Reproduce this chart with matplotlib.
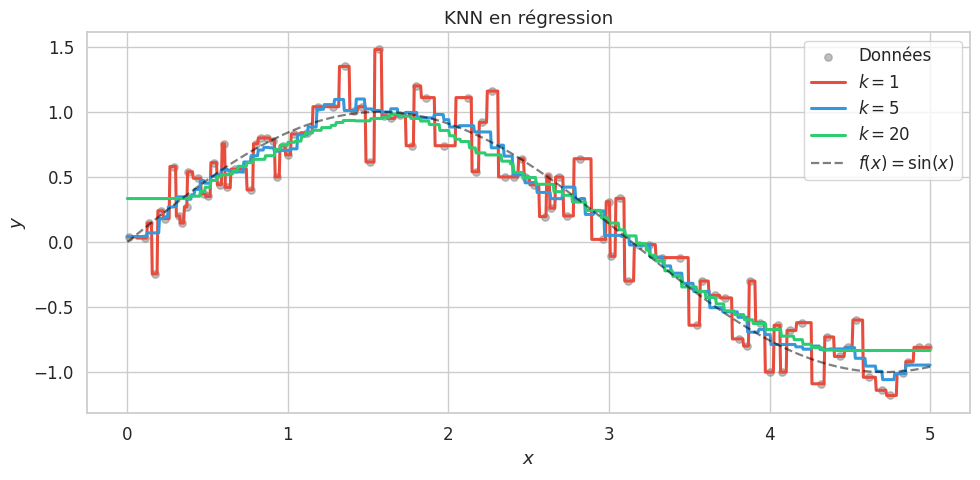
import numpy as np
import matplotlib
matplotlib.use("Agg")
import matplotlib.pyplot as plt
import seaborn as sns

# donnees
x_data = [0.01, 0.11, 0.135, 0.17, 0.21, 0.235, 0.29, 0.32, 0.34, 0.37,
          0.38, 0.44, 0.48, 0.50, 0.54, 0.58, 0.60, 0.62, 0.67, 0.72,
          0.77, 0.80, 0.83, 0.87, 0.91, 0.93, 0.97, 1.00, 1.04, 1.12,
          1.19, 1.28, 1.355, 1.41, 1.46, 1.51, 1.567, 1.60, 1.64, 1.70,
          1.77, 1.80, 1.86, 1.97, 2.12, 2.17, 2.21, 2.27, 2.35, 2.41,
          2.46, 2.48, 2.53, 2.60, 2.62, 2.64, 2.69, 2.74, 2.82, 2.96,
          3.00, 3.01, 3.07, 3.12, 3.19, 3.25, 3.33, 3.44, 3.55, 3.58,
          3.66, 3.72, 3.81, 3.86, 3.88, 3.94, 4.00, 4.05, 4.08, 4.13,
          4.20, 4.32, 4.36, 4.44, 4.49, 4.54, 4.62, 4.70, 4.75, 4.83,
          4.86, 4.93, 4.99]
y_data = [0.04, 0.03, 0.145, -0.245, 0.24, 0.18, 0.58, 0.20, 0.145, 0.27,
          0.54, 0.49, 0.37, 0.35, 0.61, 0.44, 0.755, 0.42, 0.56, 0.56,
          0.40, 0.755, 0.80, 0.80, 0.78, 0.50, 0.74, 0.67, 0.83, 0.84,
          1.04, 1.04, 1.35, 1.01, 1.04, 0.615, 1.48, 0.97, 0.95, 0.98,
          0.74, 1.20, 1.11, 0.74, 1.11, 0.54, 0.92, 1.16, 0.50, 0.50,
          0.64, 0.50, 0.44, 0.195, 0.51, 0.26, 0.50, 0.20, 0.64, 0.02,
          0.31, -0.11, 0.335, -0.30, -0.02, -0.02, -0.12, -0.12, -0.64, -0.30,
          -0.41, -0.43, -0.745, -0.80, -0.30, -0.62, -1.00, -0.64, -1.00, -0.68,
          -0.62, -1.09, -0.73, -0.88, -0.81, -0.60, -1.04, -1.14, -1.18, -1.01,
          -0.92, -0.81, -0.81]
k_values = [1, 5, 20]
colors = ["#e74c3c", "#3498db", "#2ecc71"]


def knn_predict(x_train, y_train, x_test, k):
    d = np.abs(x_test[:, None] - x_train[None, :])
    idx = np.argsort(d, axis=1, kind="stable")[:, :k]
    return y_train[idx].mean(axis=1)


sns.set_theme(style="whitegrid", font_scale=1.1)
plt.rcParams['font.family'] = ['DejaVu Sans']

X = np.array(x_data)
Y = np.array(y_data)
x_grid = np.linspace(0, 5, 1000)

fig, ax = plt.subplots(figsize=(9.8, 4.8), dpi=100)
ax.scatter(X, Y, color="gray", alpha=0.5, s=28, label="Données", zorder=1)
for k, c in zip(k_values, colors):
    ax.plot(x_grid, knn_predict(X, Y, x_grid, k), color=c, lw=2.2,
            label=f"$k = {k}$")
ax.plot(x_grid, np.sin(x_grid), "--", color="black", alpha=0.5, lw=1.6,
        label=r"$f(x) = \sin(x)$")

ax.set_title("KNN en régression")
ax.set_xlabel("$x$")
ax.set_ylabel("$y$")
ax.legend(loc="upper right")
plt.subplots_adjust(left=0.089, right=0.99, top=0.933, bottom=0.14)
plt.savefig("out.png")
